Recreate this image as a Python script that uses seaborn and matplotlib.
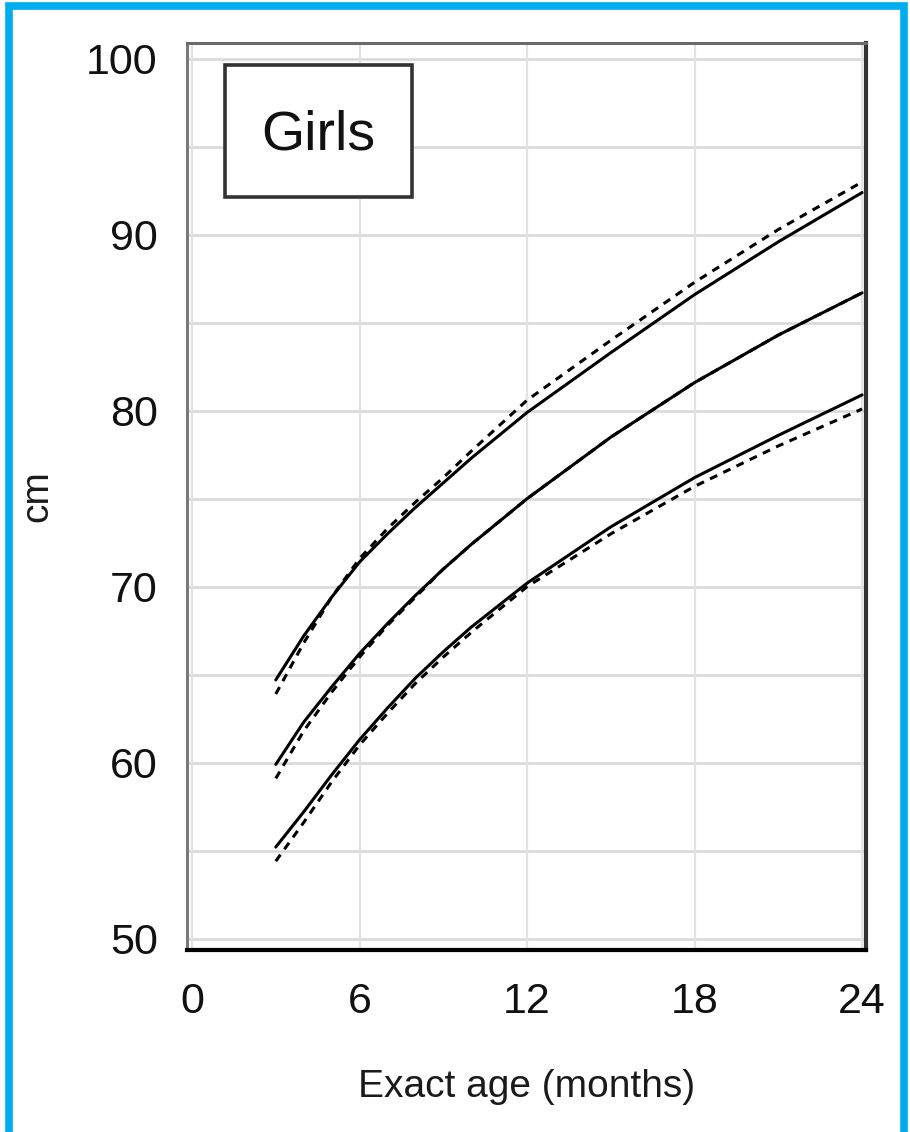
import matplotlib
matplotlib.use("Agg")
import matplotlib.pyplot as plt
from matplotlib.patches import Rectangle
from matplotlib.ticker import FixedLocator
import seaborn as sns
import pandas as pd

# ---- data ----
age = [3, 4, 5, 6, 7, 8, 9, 10, 12, 15, 18, 21, 24]

upper_solid  = [64.7, 67.2, 69.4, 71.4, 73.0, 74.5, 75.9, 77.3, 79.9, 83.3, 86.6, 89.6, 92.4]
upper_dashed = [63.9, 66.8, 69.4, 71.6, 73.3, 74.8, 76.2, 77.7, 80.6, 84.0, 87.3, 90.3, 93.0]
mid_solid    = [59.9, 62.3, 64.3, 66.2, 67.9, 69.5, 71.0, 72.4, 75.0, 78.5, 81.6, 84.3, 86.7]
mid_dashed   = [59.1, 61.8, 64.0, 66.0, 67.8, 69.4, 71.0, 72.4, 75.0, 78.5, 81.6, 84.3, 86.7]
low_solid    = [55.2, 57.2, 59.3, 61.3, 63.1, 64.8, 66.3, 67.7, 70.2, 73.4, 76.2, 78.6, 80.9]
low_dashed   = [54.4, 56.6, 58.9, 61.0, 62.8, 64.5, 66.0, 67.4, 70.0, 73.0, 75.7, 78.0, 80.1]

x_ticks_major = [0, 6, 12, 18, 24]
y_ticks_labeled = [50, 60, 70, 80, 90, 100]
panel_label = "Girls"

series = {
    ("upper", "solid"): upper_solid,
    ("upper", "dashed"): upper_dashed,
    ("mid", "solid"): mid_solid,
    ("mid", "dashed"): mid_dashed,
    ("low", "solid"): low_solid,
    ("low", "dashed"): low_dashed,
}
rows = []
for (curve, kind), vals in series.items():
    for a, v in zip(age, vals):
        rows.append({"age": a, "cm": v, "curve": curve, "kind": kind})
df = pd.DataFrame(rows)

sns.set_style("white")
plt.rcParams["font.family"] = ["Liberation Sans", "DejaVu Sans"]

fig = plt.figure(figsize=(9.10, 11.32), dpi=100)
ax = fig.add_axes([187 / 910, 1 - 950 / 1132, (866 - 187) / 910, (950 - 43) / 1132])

for (curve, kind), sub in df.groupby(["curve", "kind"]):
    sns.lineplot(data=sub, x="age", y="cm", ax=ax, color="black",
                 linewidth=2.2, sort=True, legend=False)
    if kind == "dashed":
        ax.lines[-1].set_dashes([2.6, 2.2])

ax.set_xlim(-0.18, 24.14)
ax.set_ylim(49.35, 100.9)

# ticks
ax.xaxis.set_major_locator(FixedLocator(x_ticks_major))
ax.xaxis.set_minor_locator(FixedLocator([3, 9, 15, 21]))
ax.set_xticklabels([str(t) for t in x_ticks_major])
yt = list(range(50, 101, 5))
ax.yaxis.set_major_locator(FixedLocator(yt))
ax.set_yticklabels([str(t) if t in y_ticks_labeled else "" for t in yt])
ax.yaxis.set_minor_locator(FixedLocator([52.5 + 5 * i for i in range(10)]))

ax.tick_params(axis="x", which="major", direction="out", length=13, width=2.2,
               color="black", labelsize=31, pad=10, labelcolor="#111111")
ax.tick_params(axis="x", which="minor", direction="out", length=6, width=2,
               color="#333333")
ax.tick_params(axis="y", which="major", direction="out", length=9, width=2,
               color="#444444", labelsize=31, pad=12, labelcolor="#111111")
ax.tick_params(axis="y", which="minor", direction="out", length=5, width=2,
               color="#222222")

# grid
for t in yt:
    ax.axhline(t, color="#d8d8d8", linewidth=1.8, zorder=0)
for t in x_ticks_major:
    ax.axvline(t, color="#e2e2e2", linewidth=1.6, zorder=0)

# spines
ax.spines["left"].set_color("#7a7a7a")
ax.spines["left"].set_linewidth(2.2)
ax.spines["top"].set_color("#6a6a6a")
ax.spines["top"].set_linewidth(2.2)
ax.spines["bottom"].set_color("black")
ax.spines["bottom"].set_linewidth(3)
ax.spines["right"].set_color("#333333")
ax.spines["right"].set_linewidth(3)

ax.set_xlabel("Exact age (months)", fontsize=28, labelpad=34, color="#1a1a1a")
ax.set_ylabel("cm", fontsize=28, labelpad=22, color="#1a1a1a")

# "Girls" box
box = Rectangle((0.056, 0.830), 0.331 - 0.056, 0.976 - 0.830, transform=ax.transAxes,
                fill=True, facecolor="white", edgecolor="#333333", linewidth=2.6, zorder=5)
ax.add_patch(box)
ax.text((0.056 + 0.331) / 2, 0.898, panel_label, transform=ax.transAxes,
        ha="center", va="center", fontsize=40, color="#111111", zorder=6)

# cyan frame around figure
fig.patches.append(Rectangle((9 / 910, -0.02), (904 - 9) / 910, 1 - 6 / 1132 + 0.02,
                             transform=fig.transFigure, fill=False,
                             edgecolor="#00AEEF", linewidth=5.5))

fig.savefig("out.png", dpi=100)
